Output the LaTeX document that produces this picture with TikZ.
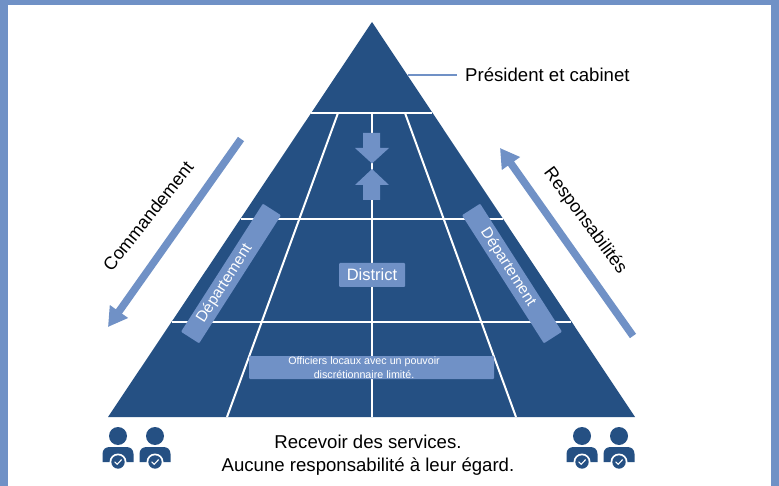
\documentclass[tikz,border=0pt]{standalone}
\usepackage{fontspec}
\setmainfont{Liberation Sans}
\usetikzlibrary{arrows.meta,calc}
\definecolor{darkblue}{HTML}{255083}
\definecolor{lightblue}{HTML}{7091C6}
\newcommand{\personicon}[2]{%
  \fill[darkblue] (#1,#2-11) circle (9);
  \fill[darkblue] (#1-15.5,#2+15) -- (#1-15.5,#2+7) .. controls (#1-15.5,#2+2) and (#1-12,#2) .. (#1-8,#2) -- (#1+8,#2) .. controls (#1+12,#2) and (#1+15.5,#2+2) .. (#1+15.5,#2+7) -- (#1+15.5,#2+15) -- cycle;
  \fill[white] (#1,#2+15) circle (8.5);
  \fill[darkblue] (#1,#2+15) circle (6.7);
  \draw[white,line width=1.1,line cap=round,line join=round] (#1-3.2,#2+15) -- (#1-0.8,#2+17.3) -- (#1+3.4,#2+12.8);
}
\tikzset{
  x=1pt,y=-1pt,
  gridline/.style={white,line width=2},
  bluebox/.style={fill=lightblue,rounded corners=1,inner sep=0,text=white,align=center},
  dept/.style={bluebox,minimum width=152,minimum height=21.5,font=\fontsize{15.5}{17}\selectfont},
  blockarrow/.style={lightblue,line width=7.5,-{Triangle[length=19,width=21]}},
  blocktip/.style={fill=lightblue},
  caption/.style={font=\fontsize{18.6}{23}\selectfont,text=black,inner sep=0,align=center},
  sidecaption/.style={font=\fontsize{18}{23}\selectfont,text=black,inner sep=0},
}
\begin{document}
\begin{tikzpicture}
\useasboundingbox (0,0) rectangle (779,486);
\fill[lightblue] (0,0) rectangle (779,486);
\fill[white] (8,5) rectangle (771,486);
% pyramid
\coordinate (apex) at (372,22);
\coordinate (baseL) at (108,417);
\coordinate (baseR) at (635,417);
\fill[darkblue] (apex) -- (baseL) -- (baseR) -- cycle;
% grid
\coordinate (h1L) at (311,113); \coordinate (h1R) at (432,113);
\coordinate (h2L) at (241,219); \coordinate (h2R) at (503,219);
\coordinate (h3L) at (172,322); \coordinate (h3R) at (571,322);
\draw[gridline] (h1L) -- (h1R);
\draw[gridline] (h2L) -- (h2R);
\draw[gridline] (h3L) -- (h3R);
\coordinate (vT) at (372,113); \coordinate (vB) at (372,417);
\coordinate (lT) at (338,113); \coordinate (lB) at (227,417);
\coordinate (rT) at (405,113); \coordinate (rB) at (516,417);
\draw[gridline] (vT) -- (vB);
\draw[gridline] (lT) -- (lB);
\draw[gridline] (rT) -- (rB);
% centre arrows
\fill[blocktip] (363,133) -- (380,133) -- (380,148) -- (389,148) -- (372,163.5) -- (355,148) -- (363,148) -- cycle;
\fill[blocktip] (363,200) -- (380,200) -- (380,185) -- (389,185) -- (372,169) -- (355,185) -- (363,185) -- cycle;
% boxes
\node[dept,rotate=57.4] (deptL) at (231,273.5) {\hspace*{-24pt}Département};
\node[dept,rotate=-57.4] (deptR) at (512,273.5) {\hspace*{-15pt}Département};
\node[bluebox,minimum width=66,minimum height=24,font=\fontsize{16.5}{18}\selectfont] (district) at (372,275) {District};
\node[bluebox,minimum width=245,minimum height=23,font=\fontsize{10.7}{14}\selectfont] (officers) at (371.5,367.5) {\hspace*{-15pt}Officiers locaux avec un pouvoir\\\hspace*{-15pt}discrétionnaire limité.};
% president
\node[caption,anchor=west] (president) at (465,75) {Président et cabinet};
\coordinate (presTip) at (408,75);
\draw[lightblue,line width=1.3] (presTip) -- (457,75);
% side arrows
\coordinate (cmdS) at (241,139); \coordinate (cmdE) at (108,327);
\coordinate (resS) at (633,336); \coordinate (resE) at (500,148);
\draw[blockarrow] (cmdS) -- (cmdE);
\draw[blockarrow] (resS) -- (resE);
\node[sidecaption,rotate=51.5] (cmd) at (148,216) {Commandement};
\node[sidecaption,rotate=-53.5] (res) at (585,221) {Responsabilités};
% bottom
\node[caption] (services) at (368,455) {Recevoir des services.\\Aucune responsabilité à leur égard.};
\personicon{118}{447}
\personicon{155}{447}
\personicon{582}{447}
\personicon{619}{447}
\end{tikzpicture}
\end{document}
